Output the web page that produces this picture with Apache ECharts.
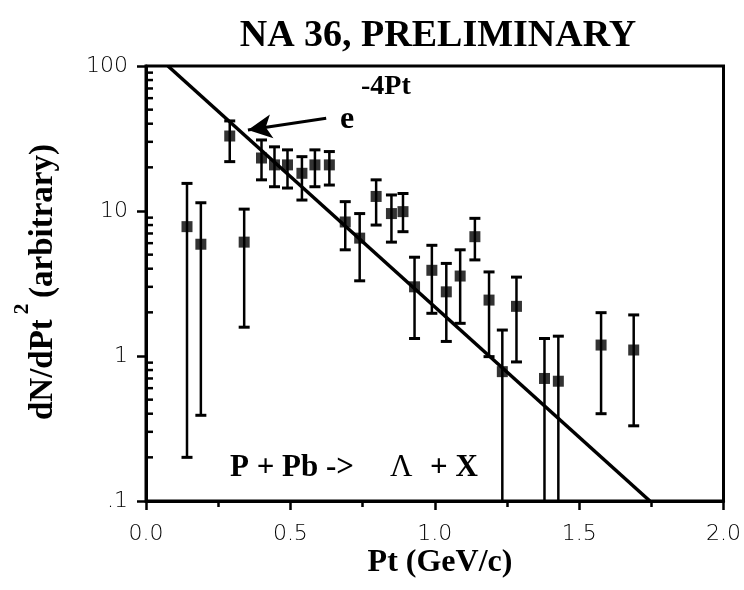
<!DOCTYPE html>
<html>
<head>
<meta charset="utf-8">
<script src="https://cdn.jsdelivr.net/npm/echarts@6/dist/echarts.min.js"></script>
<style>
  html, body { margin: 0; padding: 0; background: #ffffff; }
  #chart { width: 744px; height: 590px; }
</style>
</head>
<body>
<div id="chart"></div>
<script>
// Lambda transverse-momentum spectrum, P + Pb, NA36 preliminary
const ptValues    = [0.142, 0.19, 0.29, 0.34, 0.40, 0.445, 0.49, 0.54, 0.585, 0.635,
                     0.69, 0.74, 0.797, 0.85, 0.89, 0.93, 0.99, 1.04, 1.088, 1.139,
                     1.188, 1.234, 1.283, 1.38, 1.428, 1.576, 1.689];
const yieldValues = [7.8, 5.9, 32.9, 6.1, 23.2, 20.8, 20.8, 18.2, 20.8, 20.8,
                     8.4, 6.5, 12.6, 9.6, 9.9, 3.0, 3.9, 2.77, 3.56, 6.65,
                     2.43, 0.78, 2.2, 0.70, 0.67, 1.19, 1.10];
const errUpper    = [15.5, 11.4, 41.8, 10.3, 30.9, 27.7, 26.4, 23.7, 26.4, 25.7,
                     11.6, 9.6, 16.4, 12.9, 13.2, 4.8, 5.8, 4.35, 5.4, 8.9,
                     3.8, 1.51, 3.5, 1.32, 1.37, 1.99, 1.92];
// null: the lower bar runs past the bottom of the scale
const errLower    = [0.20, 0.39, 21.9, 1.58, 16.4, 14.7, 14.4, 11.9, 14.7, 15.1,
                     5.4, 3.3, 8.0, 6.1, 7.2, 1.32, 1.97, 1.26, 1.68, 4.6,
                     0.99, null, 0.91, null, null, 0.40, 0.33];

// exponential fit e^{-4Pt}, end points on the frame
const fitPt    = [0.076, 1.745];
const fitYield = [100, 0.1];

// arrow pointing at the fit line
const arrowPt    = [0.624, 0.353];
const arrowYield = [43.6, 36.2];

const xTickLabels = ['0.0', '0.5', '1.0', '1.5', '2.0'];
const yTickLabels = { '100': '100', '10': '10', '1': '1', '0.1': '.1' };
const decades = [0.1, 1, 10];
const minorMultipliers = [2, 3, 4, 5, 6, 7, 8, 9];
const minorTickValues = [];
decades.forEach(d => minorMultipliers.forEach(m => minorTickValues.push(+(d * m).toPrecision(3))));

const serif = '"Liberation Serif", "Times New Roman", serif';
const sans = '"DejaVu Sans ExtraLight", "DejaVu Sans", sans-serif';

const chart = echarts.init(document.getElementById('chart'), null, { renderer: 'canvas' });

const option = {
  animation: false,
  backgroundColor: '#ffffff',
  grid: {
    left: 146, right: 20, top: 66, bottom: 89,
    show: true, borderColor: '#000', borderWidth: 3, backgroundColor: 'transparent'
  },
  xAxis: {
    type: 'value', min: 0, max: 2, interval: 0.5,
    axisLine: { show: true, lineStyle: { color: '#000', width: 3 } },
    axisTick: { show: true, inside: false, length: 9, lineStyle: { color: '#000', width: 2.5 } },
    minorTick: { show: true, splitNumber: 2, length: 6, lineStyle: { color: '#000', width: 2.5 } },
    splitLine: { show: false },
    axisLabel: {
      margin: 22, fontFamily: sans, fontSize: 22, fontWeight: 'lighter', color: '#000',
      formatter: v => xTickLabels[Math.round(v / 0.5)]
    }
  },
  yAxis: {
    type: 'log', logBase: 10, min: 0.1, max: 100,
    axisLine: { show: true, lineStyle: { color: '#000', width: 3 } },
    axisTick: { show: true, inside: false, length: 9, lineStyle: { color: '#000', width: 2.5 } },
    splitLine: { show: false },
    axisLabel: {
      margin: 18, fontFamily: sans, fontSize: 22, fontWeight: 'lighter', color: '#000',
      formatter: v => yTickLabels[String(+v.toPrecision(3))] || ''
    }
  },
  series: [
    {
      // minor decade ticks drawn on the inner side of the y axis
      type: 'custom',
      silent: true,
      data: minorTickValues.map(v => [0, v]),
      encode: { x: 0, y: 1 },
      renderItem: (params, api) => {
        const p = api.coord([0, api.value(1)]);
        return {
          type: 'line',
          shape: { x1: p[0], y1: p[1], x2: p[0] + 7, y2: p[1] },
          style: { stroke: '#000', lineWidth: 2.5 }
        };
      },
      z: 3
    },
    {
      type: 'line',
      data: fitPt.map((p, i) => [p, fitYield[i]]),
      symbol: 'none',
      lineStyle: { color: '#000', width: 3.5 },
      silent: true,
      z: 2,
      markLine: {
        silent: true,
        symbol: ['none', 'arrow'],
        symbolSize: [18, 24],
        label: { show: false },
        lineStyle: { color: '#000', width: 3, type: 'solid' },
        data: [[
          { coord: [arrowPt[0], arrowYield[0]] },
          { coord: [arrowPt[1], arrowYield[1]] }
        ]]
      }
    },
    {
      // error bars
      type: 'custom',
      silent: true,
      data: ptValues.map((p, i) => [p, yieldValues[i], errUpper[i]]),
      encode: { x: 0, y: [1, 2] },
      renderItem: (params, api) => {
        const i = params.dataIndex;
        const cs = params.coordSys;
        const top = api.coord([api.value(0), api.value(2)]);
        const lo = errLower[i];
        const bottomY = lo == null ? cs.y + cs.height : api.coord([api.value(0), lo])[1];
        const x = top[0];
        const half = 5.5;
        const children = [
          { type: 'line', shape: { x1: x, y1: top[1], x2: x, y2: bottomY }, style: { stroke: '#000', lineWidth: 2.5 } },
          { type: 'line', shape: { x1: x - half, y1: top[1], x2: x + half, y2: top[1] }, style: { stroke: '#000', lineWidth: 3 } }
        ];
        if (lo != null) {
          children.push({ type: 'line', shape: { x1: x - half, y1: bottomY, x2: x + half, y2: bottomY }, style: { stroke: '#000', lineWidth: 3 } });
        }
        return { type: 'group', children };
      },
      z: 4
    },
    {
      type: 'scatter',
      data: ptValues.map((p, i) => [p, yieldValues[i]]),
      symbol: 'rect',
      symbolSize: 11,
      itemStyle: { color: '#000' },
      silent: true,
      z: 5
    }
  ],
  graphic: [
    {
      type: 'text', x: 438, y: 36,
      style: { text: 'NA 36, PRELIMINARY', font: 'bold 38px ' + serif, fill: '#000', textAlign: 'center', textVerticalAlign: 'middle' }
    },
    {
      type: 'text', x: 43, y: 420, rotation: Math.PI / 2,
      style: { text: 'dN/dPt', font: 'bold 33px ' + serif, fill: '#000', textAlign: 'left', textVerticalAlign: 'middle' }
    },
    {
      type: 'text', x: 22, y: 309, rotation: Math.PI / 2,
      style: { text: '2', font: 'bold 22px ' + serif, fill: '#000', textAlign: 'center', textVerticalAlign: 'middle' }
    },
    {
      type: 'text', x: 43, y: 298, rotation: Math.PI / 2,
      style: { text: '(arbitrary)', font: 'bold 33px ' + serif, fill: '#000', textAlign: 'left', textVerticalAlign: 'middle' }
    },
    {
      type: 'text', x: 440, y: 563,
      style: { text: 'Pt (GeV/c)', font: 'bold 32px ' + serif, fill: '#000', textAlign: 'center', textVerticalAlign: 'middle' }
    },
    {
      type: 'text', x: 340, y: 120,
      style: { text: 'e', font: 'bold 32px ' + serif, fill: '#000', textAlign: 'left', textVerticalAlign: 'middle' }
    },
    {
      type: 'text', x: 361, y: 87,
      style: { text: '-4Pt', font: 'bold 28px ' + serif, fill: '#000', textAlign: 'left', textVerticalAlign: 'middle' }
    },
    {
      type: 'text', x: 230, y: 468,
      style: { text: 'P + Pb ->', font: 'bold 31px ' + serif, fill: '#000', textAlign: 'left', textVerticalAlign: 'middle' }
    },
    {
      type: 'text', x: 390, y: 468,
      style: { text: 'Λ', font: '31px ' + serif, fill: '#000', textAlign: 'left', textVerticalAlign: 'middle' }
    },
    {
      type: 'text', x: 430, y: 468,
      style: { text: '+ X', font: 'bold 31px ' + serif, fill: '#000', textAlign: 'left', textVerticalAlign: 'middle' }
    }
  ]
};

chart.setOption(option);
</script>
</body>
</html>
